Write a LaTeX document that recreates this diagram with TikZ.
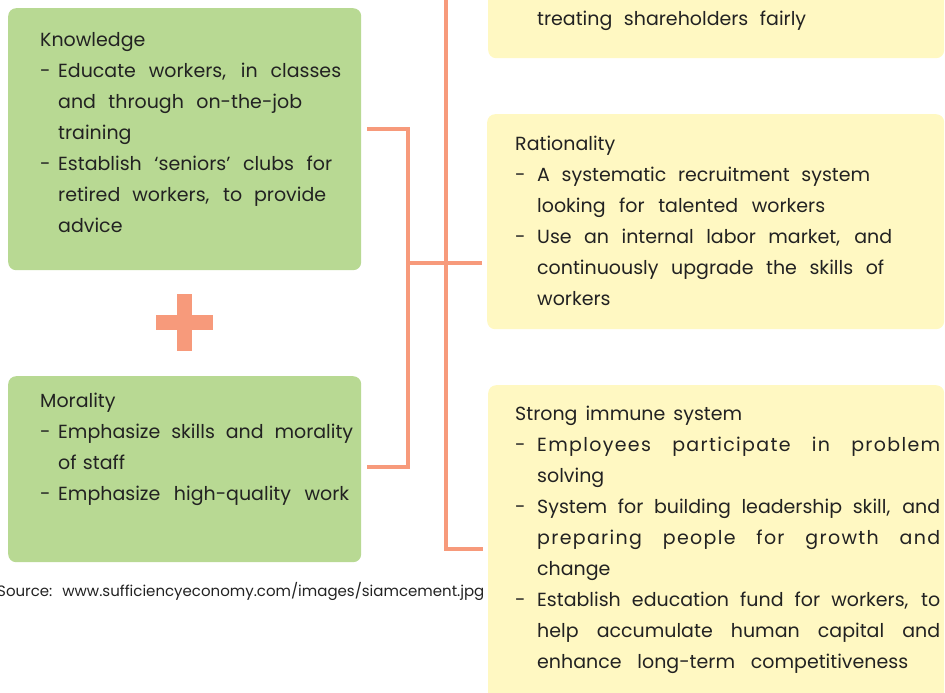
\documentclass[tikz,border=0pt]{standalone}
\usepackage{fontspec}
\usepackage{graphicx}
\setmainfont{Poppins}
\definecolor{boxgreen}{HTML}{B8D993}
\definecolor{boxyellow}{HTML}{FFF8C2}
\definecolor{linkorange}{HTML}{F79A7B}
\definecolor{txt}{HTML}{222222}
\newcommand\Lw[2]{\sbox0{#2}\ifdim\wd0>#1pt\relax\resizebox{#1pt}{\height}{#2}\else\makebox[#1pt][s]{\spaceskip=\fontdimen2\font plus 1fil\relax #2}\fi}
\newcommand\Ls[2]{\Lw{#1}{\addfontfeature{LetterSpace=7}#2}}
\newcommand\Dash[1]{\makebox[#1pt][l]{-}}
\newcommand\Ind[1]{\hspace*{#1pt}}
\begin{document}
\begin{tikzpicture}[x=1pt,y=-1pt,
  panel/.style={draw=none, rounded corners=8pt, inner sep=0pt, anchor=north west},
  green panel/.style={panel, fill=boxgreen},
  yellow panel/.style={panel, fill=boxyellow},
  body/.style={anchor=base west, inner sep=0pt, text width=430pt, align=left, text=txt, font=\fontsize{19}{31}\selectfont},
  link/.style={draw=linkorange, line width=3.5pt},
  plus/.style={fill=linkorange}
  ]
\useasboundingbox (0,0) rectangle (945,693);
% panels
\node[green panel, minimum width=353pt, minimum height=262pt] (kbox) at (8,8) {};
\node[green panel, minimum width=353pt, minimum height=186pt] (mbox) at (8,376) {};
\node[yellow panel, minimum width=456pt, minimum height=88pt] (tbox) at (488,-30) {};
\node[yellow panel, minimum width=457pt, minimum height=215pt] (rbox) at (487,114) {};
\node[yellow panel, minimum width=456pt, minimum height=330pt] (sbox) at (488,385) {};
% plus sign
\fill[plus] (177,294) rectangle (192,351);
\fill[plus] (156,315) rectangle (213,330);
% connector anchor points
\coordinate (kout) at (367,129);
\coordinate (mout) at (367,467);
\coordinate (ktop) at (408,129);
\coordinate (mbot) at (408,467);
\coordinate (jmid) at (408,263);
\coordinate (rin) at (482,263);
\coordinate (ttop) at (446,-10);
\coordinate (scorner) at (446,549);
\coordinate (sin) at (483,549);
\draw[link] (kout) -- (ktop) -- (mbot) -- (mout);
\draw[link] (jmid) -- (rin);
\draw[link] (ttop) -- (scorner) -- (sin);
% texts
\node[body] (ktext) at (40,47) {Knowledge\\
\Dash{18}\Lw{283}{Educate workers, in classes}\\
\Ind{18}\Lw{244}{and through on-the-job}\\
\Ind{18}training\\
\Dash{18}\Lw{274}{Establish ‘seniors’ clubs for}\\
\Ind{18}\Lw{268}{retired workers, to provide}\\
\Ind{18}advice};
\node[body] (mtext) at (40,407) {Morality\\
\Dash{18}\Lw{295}{Emphasize skills and morality}\\
\Ind{18}of staff\\
\Dash{18}\Lw{291}{Emphasize high-quality work}};
\node[body] (ttext) at (537,26) {\Lw{269}{treating shareholders fairly}};
\node[body] (rtext) at (515,150) {Rationality\\
\Dash{22}\Lw{333}{A systematic recruitment system}\\
\Ind{22}\Lw{288}{looking for talented workers}\\
\Dash{22}\Lw{355}{Use an internal labor market, and}\\
\Ind{22}\Lw{347}{continuously upgrade the skills of}\\
\Ind{22}workers};
\node[body] (stext) at (515,420) {\Lw{227}{Strong immune system}\\
\Dash{22}\Ls{403}{Employees participate in problem}\\
\Ind{22}solving\\
\Dash{22}\Lw{403}{System for building leadership skill, and}\\
\Ind{22}\Ls{403}{preparing people for growth and}\\
\Ind{22}change\\
\Dash{22}\Lw{403}{Establish education fund for workers, to}\\
\Ind{22}\Lw{403}{help accumulate human capital and}\\
\Ind{22}\Lw{371}{enhance long-term competitiveness}};
\node[body, font=\fontsize{15}{18}\selectfont] (source) at (-3,596) {Source:\ \ www.sufficiencyeconomy.com/images/siamcement.jpg};
\end{tikzpicture}
\end{document}
